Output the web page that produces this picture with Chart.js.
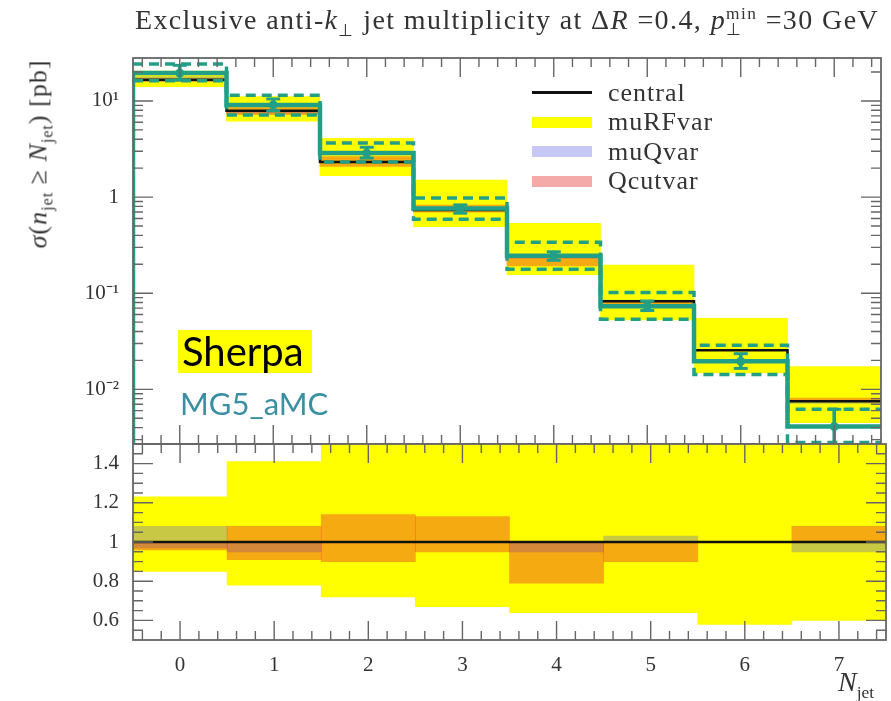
<!DOCTYPE html>
<html>
<head>
<meta charset="utf-8">
<script src="https://cdn.jsdelivr.net/npm/chart.js@4.4.1/dist/chart.umd.min.js"></script>
<style>
  html, body { margin: 0; padding: 0; background: #fff; }
  #wrap { position: relative; width: 891px; height: 701px; overflow: hidden; font-family: 'Liberation Serif', serif; color: #333; }
  canvas { position: absolute; left: 0; }
  #cTop { top: 0; }
  #cRatio { top: 400px; }
  .title { position: absolute; left: 127px; top: 4px; width: 760px; text-align: center; font-size: 28px; letter-spacing: 1.4px; white-space: nowrap; }
  .ss { display: inline-block; vertical-align: -0.35em; line-height: 0.9; font-size: 0.62em; text-align: left; }
  .ytitle { position: absolute; left: 40px; top: 154px; transform: translate(-50%, -50%) rotate(-90deg); font-size: 26px; letter-spacing: 1px; white-space: nowrap; }
  sub { font-size: 0.62em; }
  .legend { position: absolute; left: 532px; top: 78px; font-size: 26px; letter-spacing: 1px; }
  .legend div { height: 29.5px; display: flex; align-items: center; }
  .legend span.sw { display: inline-block; width: 60px; height: 11px; margin-right: 16px; }
  .legend span.ln { display: inline-block; width: 60px; height: 3px; background: #111; margin-right: 16px; }
  .sherpa { position: absolute; left: 178px; top: 330px; width: 134px; height: 43px; background: #ffff00; font-family: Lato, sans-serif; font-size: 40px; color: #000; line-height: 43px; text-indent: 4px; white-space: nowrap; }
  .mg5 { position: absolute; left: 180px; top: 384px; font-family: Lato, sans-serif; font-size: 31px; color: #3a8fa3; }
  .xtitle { position: absolute; left: 838px; top: 666px; font-size: 28px; }
</style>
</head>
<body>
<div id="wrap">
  <canvas id="cTop" width="891" height="480"></canvas>
  <canvas id="cRatio" width="891" height="301"></canvas>
  <div class="title">Exclusive anti-<i>k</i><sub>⊥</sub> jet multiplicity at Δ<i>R</i> =0.4, <i>p</i><span class="ss">min<br>⊥</span> =30 GeV</div>
  <div class="ytitle"><i>σ</i>(<i>n</i><sub>jet</sub> ≥ <i>N</i><sub>jet</sub>) [pb]</div>
  <div class="legend">
    <div><span class="ln"></span>central</div>
    <div><span class="sw" style="background:#ffff00"></span>muRFvar</div>
    <div><span class="sw" style="background:rgb(200,200,246)"></span>muQvar</div>
    <div><span class="sw" style="background:rgb(245,170,170)"></span>Qcutvar</div>
  </div>
  <div class="sherpa">Sherpa</div>
  <div class="mg5">MG5_aMC</div>
  <div class="xtitle"><i>N</i><sub>jet</sub></div>
</div>
<script>
// bins
const nJet = [0, 1, 2, 3, 4, 5, 6, 7]
const binEdges = [-0.5, 0.5, 1.5, 2.5, 3.5, 4.5, 5.5, 6.5, 7.5]

// Sherpa central [pb]
const sherpaCentral = [16.6, 7.9, 2.32, 0.733, 0.243, 0.0826, 0.0255, 0.0075]
// variations as ratio to central
const muRFLo = [0.85, 0.78, 0.72, 0.67, 0.64, 0.64, 0.58, 0.60]
const muRFHi = [1.23, 1.41, 1.76, 2.05, 2.20, 2.37, 2.15, 2.30]
const muQLo = [0.97, 0.95, 1.0, 1.0, 0.95, 1.0, 1.0, 0.95]
const muQHi = [1.08, 1.0, 1.0, 1.0, 1.0, 1.03, 1.0, 1.0]
const qcutLo = [0.96, 0.91, 0.90, 0.95, 0.79, 0.90, 1.0, 1.0]
const qcutHi = [1.0, 1.08, 1.14, 1.13, 1.0, 1.0, 1.0, 1.08]
const ratioCentral = [1, 1, 1, 1, 1, 1, 1, 1]

// MG5_aMC [pb]
const mg5Central = [19.5, 9.1, 2.87, 0.76, 0.245, 0.0733, 0.0196, 0.0041]
const mg5Up = [24.3, 11.5, 3.65, 0.98, 0.34, 0.102, 0.0288, 0.0062]
const mg5Down = [16.2, 7.15, 2.32, 0.59, 0.178, 0.0537, 0.0143, 0.0028]
const mg5ErrLo = [16.5, 7.9, 2.55, 0.68, 0.22, 0.066, 0.0165, 0.0022]
const mg5ErrHi = [23.5, 10.5, 3.3, 0.83, 0.27, 0.083, 0.0235, 0.0062]

// axes
const topMin = 0.0027, topMax = 28
const topTicks = [0.01, 0.1, 1, 10]
const topTickLabels = ['10⁻²', '10⁻¹', '1', '10¹']
const ratioMin = 0.5, ratioMax = 1.5
const ratioTicks = [0.6, 0.8, 1, 1.2, 1.4]
const ratioTickLabels = ['0.6', '0.8', '1', '1.2', '1.4']

const teal = '#22a087'
const yellow = '#ffff00'
const muQColor = 'rgba(77,77,223,0.31)'
const qcutColor = 'rgba(230,42,42,0.4)'

Chart.defaults.font.family = "'Liberation Serif', serif"
Chart.defaults.color = '#333'

const steps = vals => vals.map((v, i) => ({ x: binEdges[i], y: v }))
  .concat([{ x: binEdges[vals.length], y: vals[vals.length - 1] }])
const band = (lo, hi, scale) => nJet.map((n, i) => ({ x: n, y: [lo[i] * scale[i], hi[i] * scale[i]] }))

const bandSet = (data, color, order) => ({
  type: 'bar', data, backgroundColor: color, borderWidth: 0,
  barPercentage: 1, categoryPercentage: 1, grouped: false, order
})
const stepSet = (data, color, width, dash, order) => ({
  type: 'line', data, borderColor: color, borderWidth: width, borderDash: dash,
  stepped: true, pointRadius: 0, fill: false, order
})

// frame with inward ticks
const framePlugin = {
  id: 'frame',
  afterDatasetsDraw(chart, args, opts) {
    const { ctx, chartArea: a, scales } = chart
    ctx.save()
    ctx.strokeStyle = '#666'
    ctx.lineWidth = 1.4
    ctx.beginPath()
    for (let k = -2; k <= 37; k++) {
      const px = scales.x.getPixelForValue(k / 5)
      const len = k % 5 === 0 ? 19 : 9
      ctx.moveTo(px, a.top); ctx.lineTo(px, a.top + len)
      ctx.moveTo(px, a.bottom); ctx.lineTo(px, a.bottom - len)
    }
    const yTicks = []
    if (opts.log) {
      for (let d = -3; d <= 1; d++) {
        for (let m = 1; m <= 9; m++) {
          const v = m * Math.pow(10, d)
          if (v > scales.y.min && v < scales.y.max) yTicks.push([v, m === 1])
        }
      }
    } else {
      for (let k = 11; k <= 29; k++) yTicks.push([k * 0.05, k % 4 === 0])
    }
    yTicks.forEach(([v, major]) => {
      const py = scales.y.getPixelForValue(v)
      const len = major ? 20 : 10
      ctx.moveTo(a.left, py); ctx.lineTo(a.left + len, py)
      ctx.moveTo(a.right, py); ctx.lineTo(a.right - len, py)
    })
    ctx.stroke()
    ctx.lineWidth = 1.8
    ctx.strokeRect(a.left, a.top, a.right - a.left, a.bottom - a.top)
    ctx.restore()
  }
}

const fixedWidth = s => { s.width = 133 }
const intTicks = s => { s.ticks = nJet.map(v => ({ value: v })) }

const topChart = new Chart(document.getElementById('cTop'), {
  type: 'bar',
  data: {
    datasets: [
      bandSet(band(muRFLo, muRFHi, sherpaCentral), yellow, 10),
      bandSet(band(muQLo, muQHi, sherpaCentral), muQColor, 9),
      bandSet(band(qcutLo, qcutHi, sherpaCentral), qcutColor, 8),
      stepSet(steps(sherpaCentral), '#111', 2.5, [], 6),
      stepSet(steps(mg5Up), teal, 3.5, [10, 6], 4),
      stepSet(steps(mg5Down), teal, 3.5, [10, 6], 4),
      stepSet([{ x: binEdges[0], y: topMin }].concat(steps(mg5Central)), teal, 4.5, [], 3),
      {
        type: 'bar', data: nJet.map((n, i) => ({ x: n, y: [mg5ErrLo[i], mg5ErrHi[i]] })),
        backgroundColor: teal, borderWidth: 0, barThickness: 3, grouped: false, order: 2
      },
      {
        type: 'line', showLine: false, order: 1,
        data: nJet.map((n, i) => ({ x: n, y: mg5ErrLo[i] })).concat(nJet.map((n, i) => ({ x: n, y: mg5ErrHi[i] }))),
        pointStyle: 'line', pointRadius: 7, pointBorderWidth: 3, borderColor: teal
      },
      {
        type: 'line', showLine: false, order: 1,
        data: nJet.map((n, i) => ({ x: n, y: mg5Central[i] })),
        pointStyle: 'circle', pointRadius: 4, backgroundColor: teal, borderColor: teal
      }
    ]
  },
  options: {
    responsive: false,
    animation: false,
    events: [],
    layout: { padding: { top: 58, right: 5, bottom: 36, left: 0 } },
    plugins: { legend: { display: false }, tooltip: { enabled: false }, frame: { log: true } },
    scales: {
      x: { type: 'linear', min: -0.5, max: 7.5, offset: false, display: false, afterBuildTicks: intTicks },
      y: {
        type: 'logarithmic', min: topMin, max: topMax,
        afterFit: fixedWidth,
        afterBuildTicks: s => { s.ticks = topTicks.map(v => ({ value: v })) },
        ticks: { callback: v => topTickLabels[topTicks.indexOf(v)], font: { size: 21 }, padding: 14 },
        grid: { display: false, drawTicks: false },
        border: { display: false }
      }
    }
  },
  plugins: [framePlugin]
})

const ratioChart = new Chart(document.getElementById('cRatio'), {
  type: 'bar',
  data: {
    datasets: [
      bandSet(band(muRFLo, muRFHi, ratioCentral), yellow, 10),
      bandSet(band(muQLo, muQHi, ratioCentral), muQColor, 9),
      bandSet(band(qcutLo, qcutHi, ratioCentral), qcutColor, 8),
      stepSet(steps(ratioCentral), '#111', 2.5, [], 6)
    ]
  },
  options: {
    responsive: false,
    animation: false,
    events: [],
    layout: { padding: { top: 44, right: 5, bottom: 21, left: 0 } },
    plugins: { legend: { display: false }, tooltip: { enabled: false }, frame: { log: false } },
    scales: {
      x: {
        type: 'linear', min: -0.5, max: 7.5, offset: false,
        afterFit: s => { s.height = 40 },
        afterBuildTicks: intTicks,
        ticks: { callback: v => String(v), font: { size: 21 }, padding: 13, maxRotation: 0 },
        grid: { display: false, drawTicks: false },
        border: { display: false }
      },
      y: {
        type: 'linear', min: ratioMin, max: ratioMax,
        afterFit: fixedWidth,
        afterBuildTicks: s => { s.ticks = ratioTicks.map(v => ({ value: v })) },
        ticks: { callback: v => ratioTickLabels[ratioTicks.indexOf(v)], font: { size: 21 }, padding: 14 },
        grid: { display: false, drawTicks: false },
        border: { display: false }
      }
    }
  },
  plugins: [framePlugin]
})

// pin the plot areas so that both panels share one frame line
const pinArea = (chart, top, bottom) => {
  const pad = chart.options.layout.padding
  pad.top += top - chart.chartArea.top
  pad.bottom += chart.chartArea.bottom - bottom
  chart.update()
}
pinArea(topChart, 58, 444)
pinArea(ratioChart, 44, 240)
</script>
</body>
</html>
